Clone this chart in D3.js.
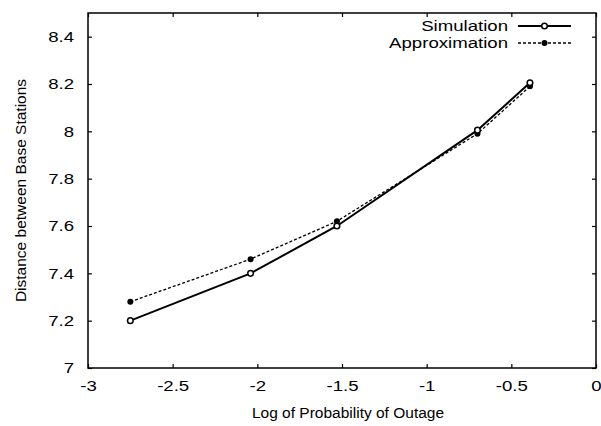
<!DOCTYPE html>
<html>
<head>
<meta charset="utf-8">
<script src="https://cdn.jsdelivr.net/npm/d3@7"></script>
<style>
  body { margin: 0; background: #fff; }
  text { font-family: "Liberation Sans", Arial, sans-serif; fill: #000; }
</style>
</head>
<body>
<div id="chart"></div>
<script>
// values
let logOutage = [-2.75, -2.04, -1.53, -0.70, -0.39];
let simulation = [7.20, 7.40, 7.60, 8.005, 8.205];
let approximation = [7.28, 7.46, 7.62, 7.99, 8.19];
let xTicks = [-3, -2.5, -2, -1.5, -1, -0.5, 0];
let yTicks = [7, 7.2, 7.4, 7.6, 7.8, 8, 8.2, 8.4];

let width = 601;
let height = 426;
let margin = {top: 13, right: 5, bottom: 58, left: 88};

let svg = d3.select("#chart")
    .append("svg")
    .attr("width", width)
    .attr("height", height);

let x = d3.scaleLinear().domain([-3, 0]).range([margin.left, width - margin.right]);
let y = d3.scaleLinear().domain([7, 8.5]).range([height - margin.bottom, margin.top]);

let fmt = (d) => String(d);

// the original type is a little wider than Arial, so stretch it sideways
let widen = (sel) => sel.each(function () {
    let len = this.getComputedTextLength();
    d3.select(this)
        .attr("textLength", len * 1.2)
        .attr("lengthAdjust", "spacingAndGlyphs");
});

// axes, ticks pointing inward (mirrored on top and right)
svg.append("g")
    .attr("transform", "translate(0," + y(7) + ")")
    .call(d3.axisBottom(x).tickValues(xTicks).tickFormat(fmt).tickSizeInner(-4).tickSizeOuter(0).tickPadding(12))
    .call(g => g.select(".domain").remove());
svg.append("g")
    .attr("transform", "translate(0," + y(8.5) + ")")
    .call(d3.axisTop(x).tickValues(xTicks).tickFormat("").tickSizeInner(-4).tickSizeOuter(0))
    .call(g => g.select(".domain").remove());
svg.append("g")
    .attr("transform", "translate(" + x(-3) + ",0)")
    .call(d3.axisLeft(y).tickValues(yTicks).tickFormat(fmt).tickSizeInner(-4).tickSizeOuter(0).tickPadding(14))
    .call(g => g.select(".domain").remove());
svg.append("g")
    .attr("transform", "translate(" + x(0) + ",0)")
    .call(d3.axisRight(y).tickValues(yTicks).tickFormat("").tickSizeInner(-4).tickSizeOuter(0))
    .call(g => g.select(".domain").remove());

svg.selectAll(".tick line").attr("stroke", "#000").attr("stroke-width", 1.2);
svg.selectAll(".tick text")
    .attr("font-size", 15.5)
    .attr("font-family", "Liberation Sans, Arial, sans-serif")
    .call(widen);

// frame
svg.append("rect")
    .attr("x", x(-3))
    .attr("y", y(8.5))
    .attr("width", x(0) - x(-3))
    .attr("height", y(7) - y(8.5))
    .attr("fill", "none")
    .attr("stroke", "#000")
    .attr("stroke-width", 1.5);

// axis titles
svg.append("text")
    .attr("x", (x(-3) + x(0)) / 2 + 6)
    .attr("y", 418)
    .attr("text-anchor", "middle")
    .attr("font-size", 15.5)
    .text("Log of Probability of Outage");
svg.append("text")
    .attr("transform", "translate(26," + (y(7) + y(8.5)) / 2 + ") rotate(-90)")
    .attr("text-anchor", "middle")
    .attr("font-size", 15.5)
    .text("Distance between Base Stations");

let line = d3.line()
    .x(d => x(d[0]))
    .y(d => y(d[1]));

let simPts = logOutage.map((v, i) => [v, simulation[i]]);
let apxPts = logOutage.map((v, i) => [v, approximation[i]]);

svg.append("path")
    .datum(apxPts)
    .attr("d", line)
    .attr("fill", "none")
    .attr("stroke", "#000")
    .attr("stroke-width", 1.3)
    .attr("stroke-dasharray", "3,2");
svg.append("path")
    .datum(simPts)
    .attr("d", line)
    .attr("fill", "none")
    .attr("stroke", "#000")
    .attr("stroke-width", 2);

svg.selectAll(".apx")
    .data(apxPts)
    .enter()
    .append("circle")
    .attr("class", "apx")
    .attr("cx", d => x(d[0]))
    .attr("cy", d => y(d[1]))
    .attr("r", 3)
    .attr("fill", "#000");
svg.selectAll(".sim")
    .data(simPts)
    .enter()
    .append("circle")
    .attr("class", "sim")
    .attr("cx", d => x(d[0]))
    .attr("cy", d => y(d[1]))
    .attr("r", 2.8)
    .attr("fill", "#fff")
    .attr("stroke", "#000")
    .attr("stroke-width", 1.5);

// legend
let legend = [
    {name: "Simulation", dash: null, width: 2, open: true},
    {name: "Approximation", dash: "3,2", width: 1.3, open: false}
];
let lg = svg.selectAll(".legend")
    .data(legend)
    .enter()
    .append("g")
    .attr("class", "legend")
    .attr("transform", (d, i) => "translate(0," + (26 + i * 17) + ")");
lg.append("text")
    .attr("x", 508)
    .attr("dy", "0.35em")
    .attr("text-anchor", "end")
    .attr("font-size", 15.5)
    .text(d => d.name)
    .call(widen);
lg.append("line")
    .attr("x1", 518)
    .attr("x2", 571)
    .attr("stroke", "#000")
    .attr("stroke-width", d => d.width)
    .attr("stroke-dasharray", d => d.dash);
lg.append("circle")
    .attr("cx", 544.5)
    .attr("r", d => d.open ? 2.8 : 3)
    .attr("fill", d => d.open ? "#fff" : "#000")
    .attr("stroke", "#000")
    .attr("stroke-width", d => d.open ? 1.5 : 0);
</script>
</body>
</html>
